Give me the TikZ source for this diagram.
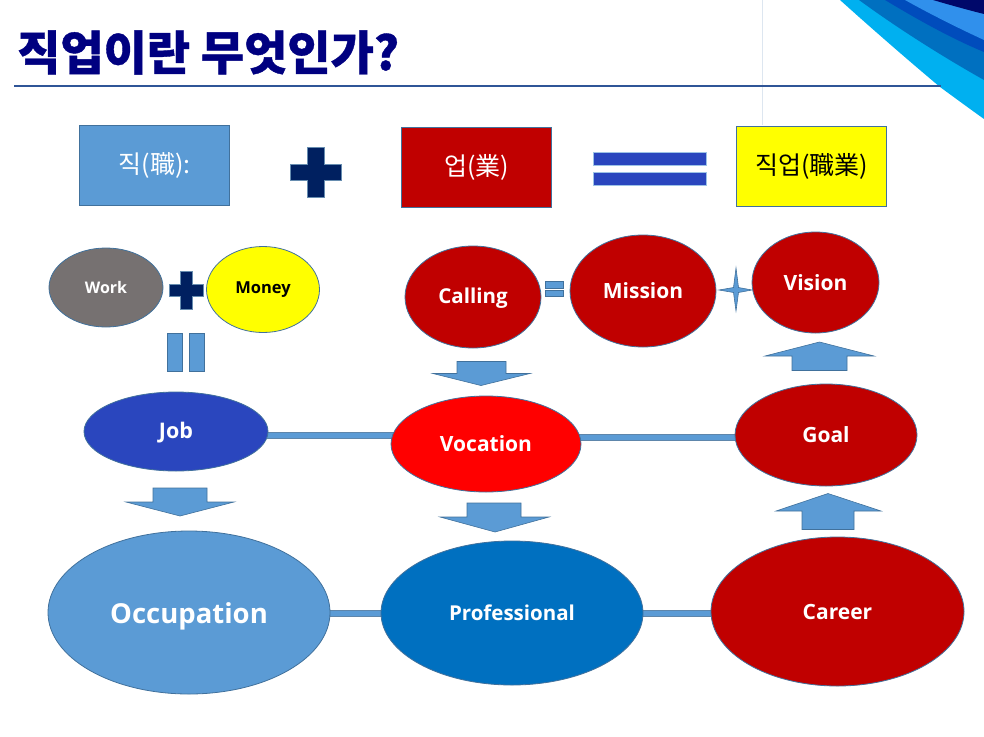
\documentclass[tikz,border=0pt]{standalone}
\usepackage{fontspec}
\setmainfont{Open Sans}
\newfontfamily\kr{Noto Sans CJK KR}
\usetikzlibrary{shapes.geometric,backgrounds}
\definecolor{edgeblue}{HTML}{41719C}
\definecolor{skyblue}{HTML}{5B9BD5}
\definecolor{royal}{HTML}{2A46BE}
\definecolor{crimson}{HTML}{C00000}
\definecolor{navyplus}{HTML}{002060}
\definecolor{titleblue}{HTML}{000080}
\definecolor{rulecol}{HTML}{2F5597}
\definecolor{deepblue}{HTML}{0070C0}
\definecolor{greyish}{HTML}{767171}
\definecolor{pureyellow}{HTML}{FFFF00}
\definecolor{purered}{HTML}{FF0000}
\definecolor{faintline}{HTML}{DDE6F0}
\definecolor{cornerA}{HTML}{00B0F0}
\definecolor{cornerC}{HTML}{004CBC}
\definecolor{cornerD}{HTML}{3090EC}
\definecolor{cornerE}{HTML}{00086A}
\newcommand{\dropped}[2]{\raisebox{-#1pt}[0pt][0pt]{#2}}
\tikzset{
  oval/.style={ellipse,draw=edgeblue,line width=0.8pt,inner sep=0pt,text=white,font=\bfseries},
  wordbox/.style={rectangle,draw=edgeblue,line width=0.9pt,inner sep=0pt,minimum width=150.5pt,minimum height=80.5pt,font=\kr\fontsize{25}{28}\selectfont},
  blockshape/.style={fill=skyblue,draw=edgeblue,line width=0.6pt},
  plusshape/.style={fill=navyplus,draw=edgeblue!80!white,line width=0.6pt},
  barshape/.style={fill=royal,draw=skyblue!60!white,line width=0.5pt},
  linkbar/.style={line width=5.5pt,draw=skyblue},
  linkedge/.style={line width=6.3pt,draw=edgeblue!85!white},
}
\begin{document}
\begin{tikzpicture}[x=1pt,y=-1pt]
\useasboundingbox (0,0) rectangle (984,736);
% corner decoration
\fill[cornerA] (840,0) .. controls (880,36) and (915,66) .. (940,87) .. controls (955,98) and (970,109) .. (984,119) -- (984,0) -- cycle;
\fill[deepblue] (859,0) .. controls (900,30) and (945,58) .. (984,80) -- (984,0) -- cycle;
\fill[cornerC] (885,0) .. controls (915,18) and (950,38) .. (984,52) -- (984,0) -- cycle;
\fill[cornerD] (905,0) .. controls (930,14) and (958,28) .. (984,40) -- (984,0) -- cycle;
\fill[cornerE] (933,0) .. controls (950,5) and (968,10) .. (984,14) -- (984,0) -- cycle;
% faint vertical line of the slide background
\draw[faintline,line width=1pt] (762.5,0) -- (762.5,125);
% title
\node[anchor=west,inner sep=0pt,text=titleblue,font={\kr\bfseries\addfontfeature{FakeBold=0.8}\fontsize{47}{50}\selectfont}] (title) at (17,52.5) {직업이란 무엇인가?};
\coordinate (ruleL) at (14,85.5);
\coordinate (ruleR) at (941,85.5);
\draw[rulecol,line width=2pt] (ruleL) -- (ruleR);
% top row
\node[wordbox,fill=skyblue,text=white] (jik) at (154.5,165.5) {직(職):};
\node[wordbox,fill=crimson,text=white] (eop) at (476.5,167.5) {업(業)};
\node[wordbox,fill=pureyellow,text=black] (jikeop) at (811.5,166.5) {직업(職業)};
\draw[plusshape] (307,147) -- (324,147) -- (324,164) -- (341,164) -- (341,180) -- (324,180) -- (324,197) -- (307,197) -- (307,180) -- (290,180) -- (290,164) -- (307,164) -- cycle;
\draw[barshape] (593,152) rectangle (706,165.5);
\draw[barshape] (593,172) rectangle (706,185.5);
% ovals
\node[oval,fill=greyish,minimum width=114pt,minimum height=79pt,font=\bfseries\fontsize{16}{18}\selectfont] (work) at (106,287.5) {Work};
\node[oval,fill=pureyellow,text=black,minimum width=113pt,minimum height=86pt,font=\bfseries\fontsize{16.5}{18}\selectfont] (money) at (263,289.5) {Money};
\node[oval,fill=royal,minimum width=184pt,minimum height=79pt,font=\bfseries\fontsize{21.5}{24}\selectfont] (job) at (176,431.5) {\dropped{7.2}{Job}};
\node[oval,fill=crimson,minimum width=136pt,minimum height=102pt,font=\bfseries\fontsize{20.5}{26}\selectfont] (calling) at (473,297) {\dropped{6.8}{Calling}};
\node[oval,fill=crimson,minimum width=146pt,minimum height=112pt,font=\bfseries\fontsize{21}{26}\selectfont] (mission) at (643,291) {\dropped{7.5}{Mission}};
\node[oval,fill=crimson,minimum width=127pt,minimum height=101pt,font=\bfseries\fontsize{21}{26}\selectfont] (vision) at (815.5,282.5) {\dropped{7.5}{Vision}};
\node[oval,fill=purered,minimum width=190pt,minimum height=96pt,font=\bfseries\fontsize{21}{26}\selectfont] (vocation) at (486,444) {\dropped{7.5}{Vocation}};
\node[oval,fill=crimson,minimum width=182pt,minimum height=102pt,font=\bfseries\fontsize{21}{26}\selectfont] (goal) at (826,435) {\dropped{7.5}{Goal}};
\node[oval,fill=skyblue,minimum width=282pt,minimum height=163pt,font=\bfseries\fontsize{27.5}{32}\selectfont] (occupation) at (189,612.5) {\dropped{11.2}{Occupation}};
\node[oval,fill=deepblue,minimum width=262pt,minimum height=144pt,font=\bfseries\fontsize{20.5}{26}\selectfont] (professional) at (512,613) {\dropped{7.3}{Professional}};
\node[oval,fill=crimson,minimum width=253pt,minimum height=149pt,font=\bfseries\fontsize{21}{26}\selectfont] (career) at (837.5,611.5) {\dropped{7.5}{Career}};
% connectors behind ovals
\begin{pgfonlayer}{background}
\foreach \a/\b/\yy in {job/vocation/435.5,vocation/goal/437.5,occupation/professional/613.5,professional/career/613.5}{
  \draw[linkedge] (\a.center |- 0,\yy) -- (\b.center |- 0,\yy);
  \draw[linkbar] (\a.center |- 0,\yy) -- (\b.center |- 0,\yy);
}
\end{pgfonlayer}
% small plus and equals
\draw[plusshape] (180,271) -- (192,271) -- (192,284) -- (203,284) -- (203,296) -- (192,296) -- (192,309) -- (180,309) -- (180,296) -- (169,296) -- (169,284) -- (180,284) -- cycle;
\draw[blockshape] (167,333) rectangle (182,371);
\draw[blockshape] (189,333) rectangle (204,371);
\draw[blockshape] (545,281) rectangle (563,288);
\draw[blockshape] (545,290) rectangle (563,296);
% star
\draw[blockshape] (736,268) -- (738.5,287.5) -- (752,290) -- (738.5,292.5) -- (736,311) -- (733.5,292.5) -- (719,290) -- (733.5,287.5) -- cycle;
% block arrows
\draw[blockshape] (153,488) -- (207,488) -- (207,502) -- (234,502) -- (180,516) -- (126,502) -- (153,502) -- cycle;
\draw[blockshape] (457,361.5) -- (506,361.5) -- (506,373.5) -- (530,373.5) -- (481,385.5) -- (433,373.5) -- (457,373.5) -- cycle;
\draw[blockshape] (467,503) -- (521,503) -- (521,517) -- (549,517) -- (495,532) -- (440,517) -- (467,517) -- cycle;
\draw[blockshape] (792,370.5) -- (847,370.5) -- (847,356) -- (874,356) -- (819.5,342) -- (765,356) -- (792,356) -- cycle;
\draw[blockshape] (802,529.5) -- (854,529.5) -- (854,511) -- (881,511) -- (828,493.5) -- (776,511) -- (802,511) -- cycle;
\end{tikzpicture}
\end{document}
